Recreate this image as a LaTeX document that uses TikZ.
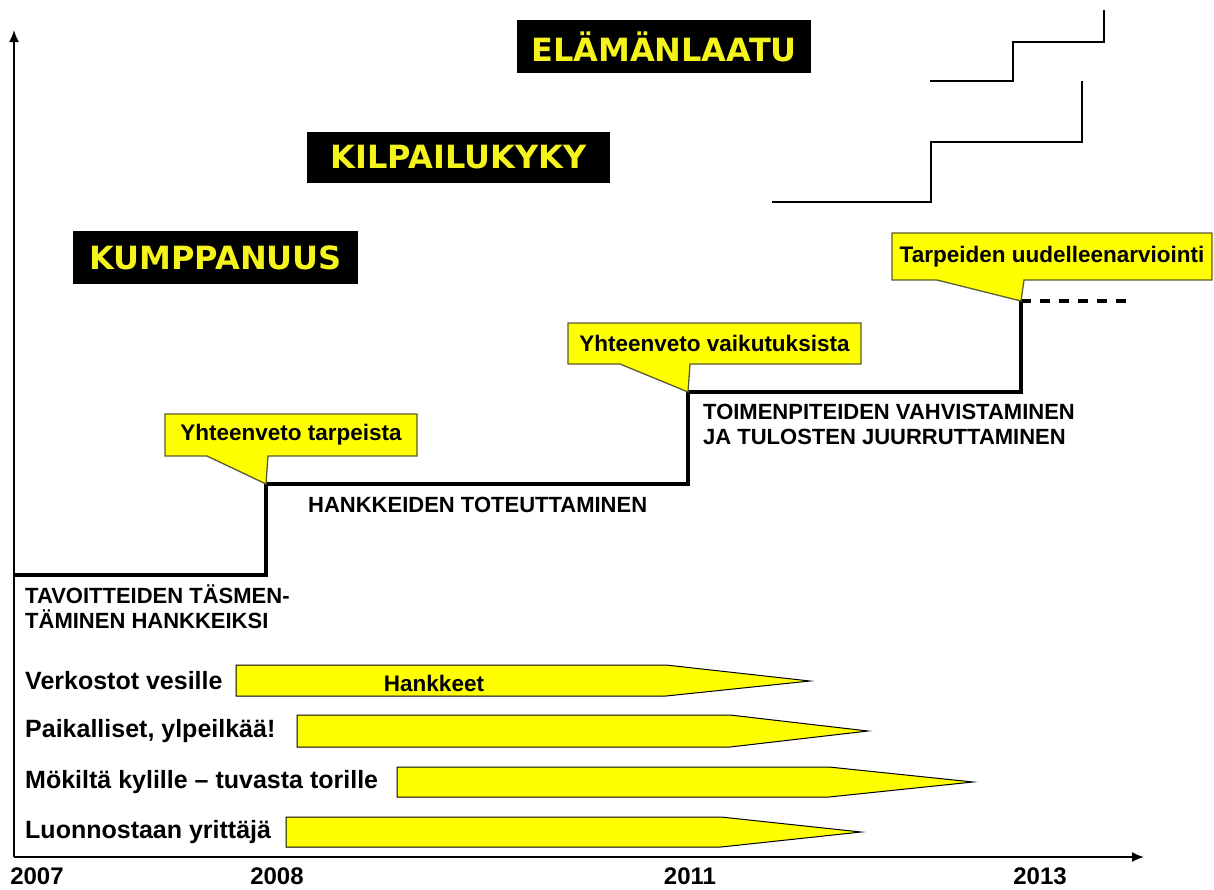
\documentclass[tikz,border=0pt]{standalone}
\usepackage{fontspec}
\setmainfont{Liberation Sans}
\newfontfamily\verd{DejaVu Sans}
\usetikzlibrary{arrows.meta}
\definecolor{yel}{HTML}{FFFF00}
\definecolor{boxtxt}{HTML}{F4F41C}
\definecolor{cbord}{HTML}{5A5A30}
\begin{document}
\begin{tikzpicture}[x=1pt,y=-1pt,
  blackbox/.style={fill=black, text=boxtxt, font=\verd\bfseries\fontsize{32}{32}\selectfont, inner sep=0pt},
  callshape/.style={fill=yel, draw=cbord, line width=1.3pt, line join=miter},
  calltext/.style={font=\bfseries\fontsize{22.5}{22.5}\selectfont, inner sep=0pt},
  phase/.style={font=\bfseries\fontsize{22}{25}\selectfont, align=left, anchor=west, inner sep=0pt},
  projname/.style={font=\bfseries\fontsize{25}{25}\selectfont, anchor=west, inner sep=0pt},
  projarrow/.style={fill=yel, draw=black, line width=1pt, line join=miter},
  yearlbl/.style={font=\bfseries\fontsize{24}{24}\selectfont, inner sep=0pt},
  axisline/.style={line width=1.8pt, -{Latex[length=12pt,width=10pt]}},
  stepline/.style={line width=4pt, line join=miter},
  stairline/.style={line width=1.5pt},
]
\useasboundingbox (0,0) rectangle (1214,889);

% axes
\coordinate (O) at (14,857);
\coordinate (ytop) at (14,30);
\coordinate (xend) at (1144,857);
\draw[axisline] (O) -- (ytop);
\draw[axisline] (O) -- (xend);

% black title boxes
\node[blackbox, minimum width=294pt, minimum height=53pt] (elama) at (664,46.5) {ELÄMÄNLAATU};
\node[blackbox, minimum width=303pt, minimum height=51pt] (kilpa) at (458.5,157.5) {KILPAILUKYKY};
\node[blackbox, minimum width=285pt, minimum height=53pt] (kumpp) at (215.5,257.5) {KUMPPANUUS};

% thin stairs
\draw[stairline] (930,81) -- (1013,81) -- (1013,42) -- (1104,42) -- (1104,10);
\draw[stairline] (772,202) -- (931,202) -- (931,142) -- (1082,142) -- (1082,81);

% main step line
\coordinate (s0) at (14,575);
\coordinate (s1) at (266,575);
\coordinate (s2) at (266,484);
\coordinate (s3) at (688,484);
\coordinate (s4) at (688,392);
\coordinate (s5) at (1021,392);
\coordinate (s6) at (1021,301);
\coordinate (s7) at (1135,301);
\draw[stepline] (s0) -- (s1) -- (s2) -- (s3) -- (s4) -- (s5) -- (s6);
\draw[line width=4pt, dash pattern=on 10pt off 9pt] (s6) -- (s7);

% callouts
\draw[callshape] (165,414) -- (417,414) -- (417,456) -- (268,456) -- (s2) -- (207,456) -- (165,456) -- cycle;
\node[calltext] (c1) at (291,435) {Yhteenveto tarpeista};
\draw[callshape] (568,323) -- (861,323) -- (861,364) -- (690,364) -- (s4) -- (620,364) -- (568,364) -- cycle;
\node[calltext] (c2) at (714.5,343.5) {Yhteenveto vaikutuksista};
\draw[callshape] (892,233) -- (1212,233) -- (1212,280) -- (1024,280) -- (s6) -- (937,280) -- (892,280) -- cycle;
\node[calltext] (c3) at (1052,256.5) {Tarpeiden uudelleenarviointi};

% phase texts
\node[phase] (p1) at (25,607) {TAVOITTEIDEN TÄSMEN-\\TÄMINEN HANKKEIKSI};
\node[phase] (p2) at (308,505) {HANKKEIDEN TOTEUTTAMINEN};
\node[phase] (p3) at (703,424.5) {TOIMENPITEIDEN VAHVISTAMINEN\\JA TULOSTEN JUURRUTTAMINEN};

% project arrows
\draw[projarrow] (236,665) -- (666,665) -- (810,681) -- (666,696) -- (236,696) -- cycle;
\draw[projarrow] (297,715) -- (730,715) -- (868,731) -- (730,747) -- (297,747) -- cycle;
\draw[projarrow] (397,767) -- (829,767) -- (973,782) -- (829,797) -- (397,797) -- cycle;
\draw[projarrow] (286,817) -- (721,817) -- (861,832) -- (721,847) -- (286,847) -- cycle;
\node[calltext] (hk) at (434,683) {Hankkeet};

\node[projname] (n1) at (25,681) {Verkostot vesille};
\node[projname] (n2) at (25,731) {Paikalliset, ylpeilkää!};
\node[projname] (n3) at (25,782) {Mökiltä kylille – tuvasta torille};
\node[projname] (n4) at (25,832) {Luonnostaan yrittäjä};

% years
\node[yearlbl] (y07) at (37,876) {2007};
\node[yearlbl] (y08) at (277,876) {2008};
\node[yearlbl] (y11) at (690,876) {2011};
\node[yearlbl] (y13) at (1040,876) {2013};
\end{tikzpicture}
\end{document}
